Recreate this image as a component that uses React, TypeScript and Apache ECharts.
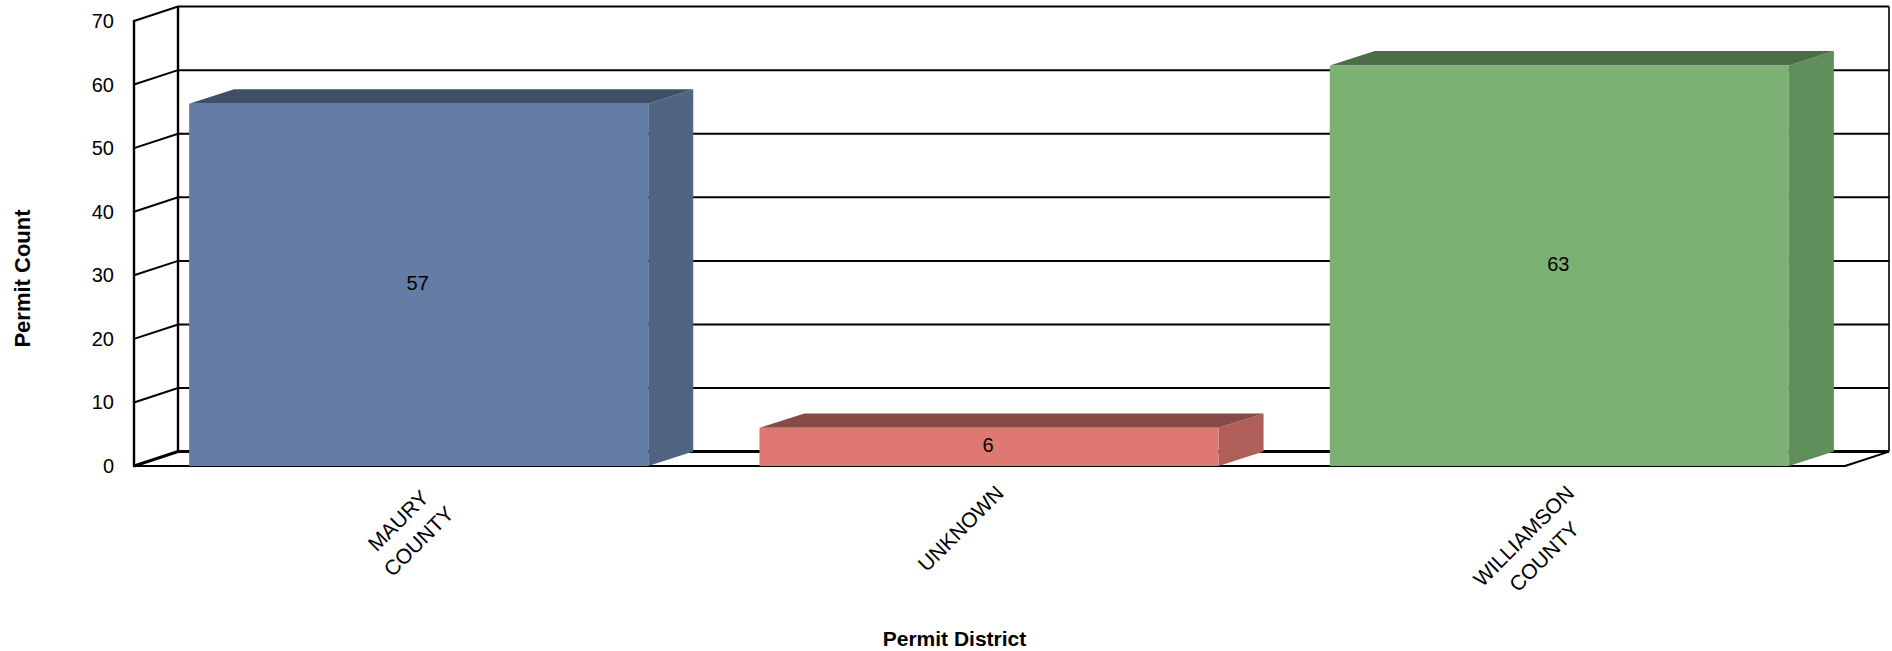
import React, { useEffect, useRef } from "react";
import * as echarts from "echarts";

const categories = ["MAURY\nCOUNTY", "UNKNOWN", "WILLIAMSON\nCOUNTY"];
const permitCounts = [57, 6, 63];
const yTicks = [0, 10, 20, 30, 40, 50, 60, 70];
const faceColors = ["#647DA5", "#DF7872", "#7CB174"];
const sideColors = ["#506482", "#AF5E5A", "#618F5C"];
const topColors = ["#3E4F67", "#874A47", "#4B6E46"];

const DEPTH_X = 44;
const DEPTH_Y = 14.4;
const FONT = "Liberation Sans, Arial, sans-serif";

export default function App() {
  const ref = useRef<HTMLDivElement>(null);
  useEffect(() => {
    document.body.style.margin = "0";
    const chart = echarts.init(ref.current!, null, { renderer: "svg" });

    const renderGrid = (params: any, api: any) => {
      const cs = params.coordSys;
      const y = api.coord([0, api.value(1)])[1];
      const tick = api.value(1);
      const L = cs.x;
      const R = cs.x + cs.width;
      const children: any[] = [
        {
          type: "polyline",
          shape: { points: [[L, y], [L + DEPTH_X, y - DEPTH_Y], [R + DEPTH_X, y - DEPTH_Y]] },
          style: { stroke: "#000", lineWidth: tick === 0 ? 3 : 2, fill: null },
        },
      ];
      if (tick === 0) {
        children.push(
          {
            type: "line",
            shape: { x1: R, y1: y, x2: R + DEPTH_X, y2: y - DEPTH_Y },
            style: { stroke: "#000", lineWidth: 2 },
          },
          {
            type: "line",
            shape: { x1: L + DEPTH_X, y1: cs.y - DEPTH_Y, x2: L + DEPTH_X, y2: y - DEPTH_Y },
            style: { stroke: "#000", lineWidth: 2.4 },
          },
          {
            type: "line",
            shape: { x1: R + DEPTH_X, y1: cs.y - DEPTH_Y, x2: R + DEPTH_X, y2: y - DEPTH_Y },
            style: { stroke: "#000", lineWidth: 1.6 },
          }
        );
      }
      return { type: "group", children };
    };

    const renderBar = (params: any, api: any) => {
      const i = api.value(0);
      const v = api.value(1);
      const [cx, top] = api.coord([i, v]);
      const [, base] = api.coord([i, 0]);
      const w = api.size([1, 0])[0] * 0.805;
      const l = cx - w / 2 - 0.5;
      const r = l + w;
      return {
        type: "group",
        children: [
          {
            type: "polygon",
            shape: { points: [[r, top], [r + DEPTH_X + 1, top - DEPTH_Y], [r + DEPTH_X + 1, base - DEPTH_Y], [r, base]] },
            style: { fill: sideColors[i] },
          },
          {
            type: "polygon",
            shape: { points: [[l, top], [l + DEPTH_X + 1, top - DEPTH_Y], [r + DEPTH_X + 1, top - DEPTH_Y], [r, top]] },
            style: { fill: topColors[i] },
          },
          {
            type: "rect",
            shape: { x: l, y: top, width: w, height: base - top },
            style: { fill: faceColors[i] },
          },
          {
            type: "text",
            x: cx - 1.5,
            y: (top + base) / 2 - 1.5,
            style: {
              text: String(v),
              fill: "#000",
              font: `20px ${FONT}`,
              align: "center",
              verticalAlign: "middle",
            },
          },
        ],
      };
    };

    chart.setOption({
      animation: false,
      backgroundColor: "#fff",
      grid: { left: 134, right: 47, top: 21, bottom: 185, outerBoundsMode: "none" },
      xAxis: {
        type: "category",
        data: categories,
        axisLine: { show: true, lineStyle: { color: "#000", width: 2 } },
        axisTick: { show: false },
        name: "Permit District",
        nameLocation: "middle",
        nameGap: 162,
        nameTextStyle: {
          fontFamily: FONT,
          fontWeight: "bold",
          fontSize: 21,
          color: "#000",
          padding: [0, 70, 0, 0],
        },
        axisLabel: {
          interval: 0,
          rotate: 45,
          margin: 13,
          verticalAlign: "top",
          color: "#000",
          fontFamily: FONT,
          fontSize: 21,
          lineHeight: 29,
          formatter: (value: string) =>
            value.split("\n").map((s) => `{c|${s}}`).join("\n"),
          rich: { c: { align: "center", fontFamily: FONT, fontSize: 21, color: "#000", lineHeight: 29 } },
        },
      },
      yAxis: {
        type: "value",
        min: 0,
        max: 70,
        interval: 10,
        splitLine: { show: false },
        axisLine: { show: true, lineStyle: { color: "#000", width: 2.4 } },
        axisTick: { show: false },
        name: "Permit Count",
        nameLocation: "middle",
        nameGap: 101,
        nameTextStyle: {
          fontFamily: FONT,
          fontWeight: "bold",
          fontSize: 22,
          color: "#000",
          padding: [0, 70, 0, 0],
        },
        axisLabel: { margin: 20, color: "#000", fontFamily: FONT, fontSize: 20 },
      },
      series: [
        {
          type: "custom",
          z: 1,
          clip: false,
          renderItem: renderGrid,
          encode: { x: 0, y: 1 },
          data: yTicks.map((t) => [0, t]),
          silent: true,
        },
        {
          type: "custom",
          z: 2,
          clip: false,
          renderItem: renderBar,
          encode: { x: 0, y: 1 },
          data: permitCounts.map((v, i) => [i, v]),
          silent: true,
        },
      ],
    });
    return () => chart.dispose();
  }, []);
  return <div ref={ref} style={{ width: 1892, height: 651 }} />;
}
